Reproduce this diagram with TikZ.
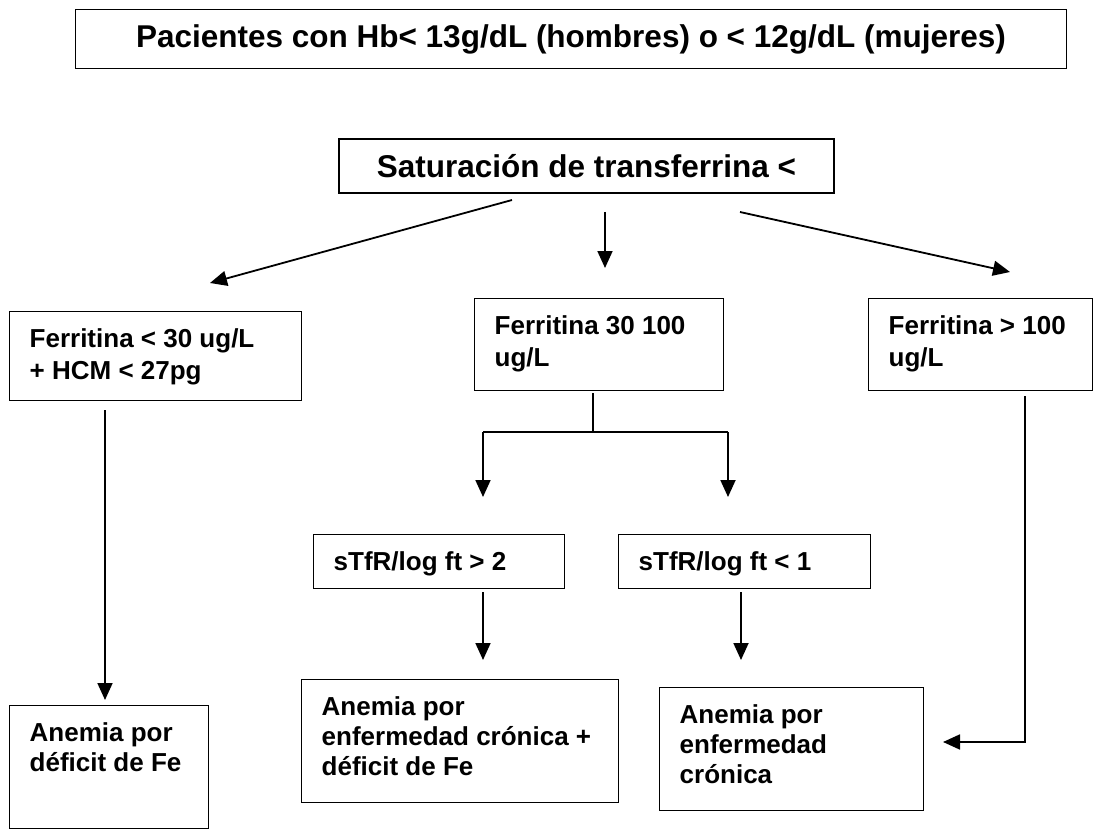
\documentclass[tikz,border=0pt]{standalone}
\usepackage{fontspec}
\setmainfont{Liberation Sans}
\usetikzlibrary{arrows.meta}
\newcommand{\boxtext}[3]{\parbox[c][#1][t]{#2}{\rule{0pt}{36pt}#3}}
\begin{document}
\begin{tikzpicture}[x=1pt,y=-1pt,
  bigbox/.style={draw,line width=1.4pt,inner sep=0pt,font=\fontsize{#1}{#1}\selectfont\bfseries},
  box/.style={draw,line width=1.4pt,inner xsep=20pt,inner ysep=0pt,anchor=north west,font=\fontsize{26}{30}\selectfont\bfseries},
  fbox/.style={box,font=\fontsize{26}{32}\selectfont\bfseries},
  arr/.style={line width=1.8pt,-{Triangle[length=17pt,width=15pt]}},
  ln/.style={line width=1.8pt}]
\useasboundingbox (0,0) rectangle (1096,832);
% boxes
\node[bigbox=31.5,minimum width=991pt,minimum height=59pt] (top) at (571,39) {Pacientes con Hb< 13g/dL (hombres) o < 12g/dL (mujeres)};
\node[bigbox=31.5,minimum width=495pt,minimum height=54pt] (sat) at (586.5,166) {Saturación de transferrina <};
\node[fbox] (f1) at (9,311) {\boxtext{89pt}{252pt}{Ferritina < 30 ug/L\\+ HCM < 27pg}};
\node[fbox] (f2) at (474,298) {\boxtext{92pt}{209pt}{Ferritina 30 100\\ug/L}};
\node[fbox] (f3) at (868,298) {\boxtext{92pt}{184pt}{Ferritina > 100\\ug/L}};
\node[box] (s1) at (313,534) {\boxtext{54pt}{211pt}{sTfR/log ft > 2}};
\node[box] (s2) at (618,534) {\boxtext{54pt}{212pt}{sTfR/log ft < 1}};
\node[box] (a1) at (9,705) {\boxtext{123pt}{159pt}{Anemia por\\déficit de Fe}};
\node[box] (a2) at (301,679) {\boxtext{123pt}{277pt}{Anemia por\\enfermedad crónica +\\déficit de Fe}};
\node[box] (a3) at (659,687) {\boxtext{123pt}{224pt}{Anemia por\\enfermedad\\crónica}};
% connector end points
\coordinate (l0) at (512,200); \coordinate (l1) at (210,283);
\coordinate (m0) at (605,212); \coordinate (m1) at (605,268);
\coordinate (r0) at (740,212); \coordinate (r1) at (1010,272);
\coordinate (f1a) at (105,410); \coordinate (f1b) at (105,700);
\coordinate (f2a) at (593,393); \coordinate (f2b) at (593,432);
\coordinate (hl) at (483,432); \coordinate (hr) at (728,432);
\coordinate (hl2) at (483,497); \coordinate (hr2) at (728,497);
\coordinate (s1a) at (483,592); \coordinate (s1b) at (483,660);
\coordinate (s2a) at (741,592); \coordinate (s2b) at (741,660);
\coordinate (f3a) at (1025,396); \coordinate (f3b) at (1025,742); \coordinate (f3c) at (943,742);
% connectors
\draw[arr] (l0) -- (l1);
\draw[arr] (m0) -- (m1);
\draw[arr] (r0) -- (r1);
\draw[arr] (f1a) -- (f1b);
\draw[ln] (f2a) -- (f2b);
\draw[ln] (hl) -- (hr);
\draw[arr] (hl) -- (hl2);
\draw[arr] (hr) -- (hr2);
\draw[arr] (s1a) -- (s1b);
\draw[arr] (s2a) -- (s2b);
\draw[arr] (f3a) -- (f3b) -- (f3c);
\end{tikzpicture}
\end{document}
